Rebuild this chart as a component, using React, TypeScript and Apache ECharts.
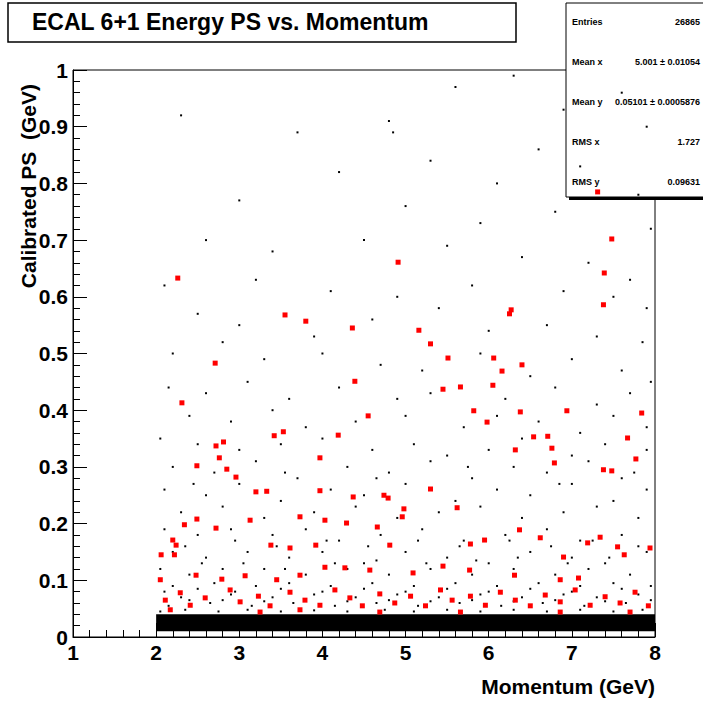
import { useEffect, useRef } from "react";
import * as echarts from "echarts";

const redPoints: number[][] = [
  [2.26, 0.633], [2.31, 0.413], [4.91, 0.661], [3.55, 0.568], [3.8, 0.557], [4.36, 0.545],
  [5.16, 0.541], [5.3, 0.517], [2.71, 0.483], [5.51, 0.492], [4.39, 0.451], [5.66, 0.441],
  [5.45, 0.437], [4.55, 0.39], [6.05, 0.444], [6.06, 0.492], [6.16, 0.469], [6.4, 0.48],
  [6.25, 0.57], [6.27, 0.577], [6.54, 0.353], [5.82, 0.399], [5.98, 0.379], [6.38, 0.397],
  [6.71, 0.354], [6.94, 0.399], [7.31, 0.785], [7.48, 0.702], [7.39, 0.642], [7.38, 0.586],
  [7.84, 0.395], [7.67, 0.351], [7.38, 0.295], [7.48, 0.293], [7.77, 0.314], [6.76, 0.333],
  [6.79, 0.307], [6.32, 0.33], [4.19, 0.356], [3.53, 0.362], [3.42, 0.355], [3.97, 0.316],
  [2.72, 0.337], [2.81, 0.344], [2.76, 0.316], [2.85, 0.296], [2.49, 0.302], [2.96, 0.282],
  [3.2, 0.256], [3.33, 0.257], [3.97, 0.258], [4.37, 0.247], [4.74, 0.25], [4.79, 0.245],
  [4.98, 0.226], [4.96, 0.212], [5.3, 0.261], [5.62, 0.228], [3.73, 0.212], [4.03, 0.206],
  [4.29, 0.201], [4.66, 0.194], [3.13, 0.206], [2.49, 0.208], [2.34, 0.198], [2.72, 0.192],
  [2.2, 0.171], [2.24, 0.162], [2.22, 0.145], [2.06, 0.145], [3.61, 0.157], [3.38, 0.162],
  [3.92, 0.162], [4.81, 0.162], [5.78, 0.164], [5.95, 0.171], [6.37, 0.189], [6.62, 0.175],
  [6.9, 0.141], [7.19, 0.166], [7.34, 0.176], [7.55, 0.159], [7.94, 0.157], [7.63, 0.145],
  [7.08, 0.104], [6.86, 0.101], [6.31, 0.109], [5.77, 0.118], [5.45, 0.125], [5.09, 0.113],
  [4.57, 0.118], [4.27, 0.122], [4.03, 0.123], [3.73, 0.109], [3.45, 0.101], [3.07, 0.108],
  [2.79, 0.102], [2.48, 0.109], [2.05, 0.101],
  [2.11, 0.065], [2.29, 0.078], [2.41, 0.056], [2.59, 0.069], [2.89, 0.083], [3.01, 0.062],
  [3.23, 0.072], [3.37, 0.055], [3.61, 0.079], [3.79, 0.065], [3.97, 0.056], [4.15, 0.083],
  [4.33, 0.069], [4.48, 0.055], [4.69, 0.076], [4.87, 0.06], [5.06, 0.072], [5.24, 0.055],
  [5.42, 0.083], [5.56, 0.065], [5.78, 0.072], [5.96, 0.056], [6.14, 0.079], [6.32, 0.065],
  [6.5, 0.055], [6.68, 0.074], [6.86, 0.062], [7.04, 0.083], [7.22, 0.056], [7.4, 0.071],
  [7.58, 0.06], [7.76, 0.079], [7.92, 0.055], [2.17, 0.048], [3.25, 0.044], [4.69, 0.044],
  [5.66, 0.044], [6.86, 0.044], [7.7, 0.044], [3.73, 0.048],
];

const blackPoints: number[][] = [
  [2.3, 0.92], [3.7, 0.89], [4.8, 0.91], [4.85, 0.89], [5.6, 0.97], [6.3, 0.99], [6.9, 0.93],
  [7.6, 0.96], [7.9, 0.9], [4.2, 0.82], [5.3, 0.84], [6.1, 0.8], [6.6, 0.86], [7.1, 0.83],
  [7.8, 0.78], [3.0, 0.77], [5.0, 0.76], [5.9, 0.73], [6.8, 0.75], [7.95, 0.72], [2.6, 0.7],
  [3.4, 0.68], [4.5, 0.7], [5.5, 0.69], [6.4, 0.67], [7.2, 0.66], [7.7, 0.63], [2.1, 0.62],
  [3.2, 0.63], [4.1, 0.61], [4.9, 0.6], [5.8, 0.62], [6.9, 0.61], [7.5, 0.6], [7.9, 0.58],
  [2.5, 0.57], [3.0, 0.55], [3.9, 0.53], [4.6, 0.56], [5.4, 0.58], [6.0, 0.54], [6.7, 0.55],
  [7.3, 0.53], [7.85, 0.52], [2.2, 0.5], [2.8, 0.52], [3.3, 0.49], [4.0, 0.5], [4.7, 0.48],
  [5.2, 0.47], [5.9, 0.5], [6.5, 0.46], [7.0, 0.49], [7.6, 0.47], [7.95, 0.45], [2.15, 0.44],
  [2.6, 0.43], [3.1, 0.45], [3.6, 0.42], [4.2, 0.44], [4.9, 0.42], [5.3, 0.43], [6.2, 0.42],
  [6.8, 0.44], [7.3, 0.41], [7.7, 0.43], [2.4, 0.39], [2.9, 0.38], [3.4, 0.4], [3.8, 0.37],
  [4.4, 0.38], [5.0, 0.39], [5.7, 0.37], [6.1, 0.39], [6.6, 0.38], [7.1, 0.36], [7.5, 0.39],
  [7.9, 0.37], [2.05, 0.35], [2.5, 0.34], [3.0, 0.33], [3.5, 0.34], [4.0, 0.35], [4.6, 0.33],
  [5.1, 0.34], [5.5, 0.32], [6.0, 0.33], [6.4, 0.35], [7.0, 0.32], [7.4, 0.34], [7.9, 0.33],
  [2.2, 0.3], [2.7, 0.29], [3.2, 0.31], [3.7, 0.28], [4.3, 0.3], [4.8, 0.29], [5.3, 0.31],
  [5.8, 0.28], [6.3, 0.3], [6.7, 0.29], [7.2, 0.31], [7.6, 0.28], [2.1, 0.26], [2.6, 0.25],
  [3.0, 0.27], [3.5, 0.24], [4.1, 0.26], [4.5, 0.25], [5.0, 0.27], [5.6, 0.24], [6.1, 0.26],
  [6.5, 0.25], [7.0, 0.27], [7.5, 0.24], [7.9, 0.26], [2.3, 0.22], [2.8, 0.23], [3.3, 0.21],
  [3.9, 0.22], [4.4, 0.23], [4.9, 0.21], [5.4, 0.22], [5.9, 0.23], [6.4, 0.21], [6.9, 0.22],
  [7.3, 0.23], [7.8, 0.21], [2.1, 0.19], [2.5, 0.18], [2.9, 0.19], [3.4, 0.18], [3.8, 0.19],
  [4.2, 0.17], [4.7, 0.18], [5.2, 0.19], [5.7, 0.17], [6.2, 0.18], [6.7, 0.19], [7.1, 0.17],
  [7.6, 0.18], [2.2, 0.15], [2.6, 0.14], [3.1, 0.15], [3.6, 0.14], [4.0, 0.15], [4.5, 0.13],
  [5.0, 0.15], [5.5, 0.14], [6.0, 0.13], [6.5, 0.15], [7.0, 0.14], [7.4, 0.13], [7.9, 0.15],
  [2.05, 0.12], [2.4, 0.11], [2.8, 0.12], [3.3, 0.12], [3.8, 0.11], [4.3, 0.12], [4.8, 0.11],
  [5.3, 0.12], [5.8, 0.11], [6.3, 0.12], [6.8, 0.11], [7.2, 0.12], [7.7, 0.11], [2.2, 0.09],
  [2.7, 0.095], [3.2, 0.09], [3.6, 0.095], [4.1, 0.09], [4.6, 0.095], [5.1, 0.09], [5.6, 0.095],
  [6.1, 0.09], [6.6, 0.095], [7.1, 0.09], [7.5, 0.095], [7.95, 0.09], [2.3, 0.07], [2.9, 0.075],
  [3.4, 0.07], [3.9, 0.075], [4.4, 0.07], [4.9, 0.075], [5.4, 0.07], [5.9, 0.075], [6.4, 0.07],
  [6.9, 0.075], [7.3, 0.07], [7.8, 0.075], [2.15, 0.055], [2.65, 0.06], [3.15, 0.055],
  [3.65, 0.06], [4.15, 0.055], [4.65, 0.06], [5.15, 0.055], [5.65, 0.06], [6.15, 0.055],
  [6.65, 0.06], [7.15, 0.055], [7.65, 0.06],
  [2.45, 0.27], [3.55, 0.29], [4.65, 0.28], [5.75, 0.3], [6.85, 0.27], [7.75, 0.29],
  [2.35, 0.16], [2.95, 0.17], [3.45, 0.16], [4.05, 0.17], [4.55, 0.16], [5.15, 0.17],
  [5.65, 0.16], [6.25, 0.17], [6.75, 0.16], [7.25, 0.17], [7.8, 0.16], [2.55, 0.13],
  [3.05, 0.13], [3.55, 0.12], [4.15, 0.13], [4.65, 0.135], [5.25, 0.13], [5.85, 0.135],
  [6.35, 0.14], [6.95, 0.13], [7.45, 0.14], [2.1, 0.08], [2.5, 0.085], [2.95, 0.08],
  [3.5, 0.085], [4.0, 0.08], [4.5, 0.085], [5.0, 0.08], [5.5, 0.085], [6.0, 0.08],
  [6.5, 0.085], [7.0, 0.08], [7.6, 0.085], [2.4, 0.065], [2.8, 0.065], [3.3, 0.063],
  [3.8, 0.065], [4.3, 0.063], [4.8, 0.065], [5.3, 0.063], [5.8, 0.065], [6.3, 0.063],
  [6.8, 0.065], [7.4, 0.063], [7.95, 0.065], [2.05, 0.045], [2.35, 0.048], [2.75, 0.045],
  [3.1, 0.048], [3.5, 0.045], [3.9, 0.047], [4.3, 0.045], [4.75, 0.048], [5.1, 0.045],
  [5.5, 0.048], [5.9, 0.045], [6.3, 0.048], [6.7, 0.045], [7.1, 0.048], [7.5, 0.045],
  [7.85, 0.048],
];

// dense, saturated band along the bottom
const denseBand = { xFrom: 2, xTo: 8, yFrom: 0.01, yTo: 0.04 };

const statLabels = ["Entries", "Mean x", "Mean y", "RMS x", "RMS y"];
const statValues = ["26865", "5.001 ± 0.01054", "0.05101 ± 0.0005876", "1.727", "0.09631"];

const FONT = "Liberation Sans, Arial, sans-serif";

export default function App() {
  const ref = useRef<HTMLDivElement | null>(null);

  useEffect(() => {
    if (!ref.current) return;
    const chart = echarts.init(ref.current, null, { renderer: "svg" });

    const axisLabel = { color: "#000", fontFamily: FONT, fontWeight: "bold" as const, fontSize: 21 };

    chart.setOption({
      animation: false,
      backgroundColor: "#fff",
      grid: { left: 73, right: 48, top: 70, bottom: 66, show: true, borderColor: "#000", borderWidth: 1 },
      xAxis: {
        type: "value",
        min: 1,
        max: 8,
        interval: 1,
        axisLine: { lineStyle: { color: "#000" } },
        axisTick: { inside: true, length: 14, lineStyle: { color: "#000" } },
        minorTick: { show: true, splitNumber: 5, length: 7, lineStyle: { color: "#000" } },
        splitLine: { show: false },
        axisLabel: { ...axisLabel, margin: 5 },
      },
      yAxis: {
        type: "value",
        min: 0,
        max: 1,
        interval: 0.1,
        axisLine: { lineStyle: { color: "#000" } },
        axisTick: { inside: true, length: 14, lineStyle: { color: "#000" } },
        minorTick: { show: true, splitNumber: 5, length: 7, lineStyle: { color: "#000" } },
        splitLine: { show: false },
        axisLabel: { ...axisLabel, margin: 5 },
      },
      series: [
        {
          type: "scatter",
          data: blackPoints,
          symbol: "rect",
          symbolSize: 2,
          itemStyle: { color: "#000", opacity: 1 },
          markArea: {
            silent: true,
            itemStyle: { color: "#000", opacity: 1 },
            data: [[{ coord: [denseBand.xFrom, denseBand.yFrom] }, { coord: [denseBand.xTo, denseBand.yTo] }]],
          },
        },
        {
          type: "scatter",
          data: redPoints,
          symbol: "rect",
          symbolSize: 5,
          itemStyle: { color: "#ff0000", opacity: 1 },
        },
      ],
      graphic: [
        { type: "rect", shape: { x: 8, y: 3, width: 508, height: 39 }, style: { fill: "#fff", stroke: "#000", lineWidth: 1.5 } },
        {
          type: "text",
          x: 32,
          y: 22,
          style: { text: "ECAL 6+1 Energy PS vs. Momentum", font: `bold 23px ${FONT}`, fill: "#000", verticalAlign: "middle" },
        },
        { type: "rect", shape: { x: 569, y: 6, width: 140, height: 194 }, style: { fill: "#000" } },
        { type: "rect", shape: { x: 566, y: 3, width: 140, height: 194 }, style: { fill: "#fff", stroke: "#000", lineWidth: 1 } },
        ...statLabels.map((t, i) => ({
          type: "text",
          x: 572,
          y: 22 + i * 40,
          style: { text: t, font: `bold 9px ${FONT}`, fill: "#000", verticalAlign: "middle" },
        })),
        ...statValues.map((t, i) => ({
          type: "text",
          x: 700,
          y: 22 + i * 40,
          style: { text: t, font: `bold 9px ${FONT}`, fill: "#000", align: "right", verticalAlign: "middle" },
        })),
        {
          type: "text",
          x: 28,
          y: 84,
          rotation: Math.PI / 2,
          style: { text: "Calibrated PS  (GeV)", font: `bold 21px ${FONT}`, fill: "#000", align: "right", verticalAlign: "middle" },
        },
        {
          type: "text",
          x: 655,
          y: 686,
          style: { text: "Momentum (GeV)", font: `bold 21px ${FONT}`, fill: "#000", align: "right", verticalAlign: "middle" },
        },
      ],
    });

    return () => chart.dispose();
  }, []);

  return <div ref={ref} style={{ position: "fixed", left: 0, top: 0, width: 703, height: 703 }} />;
}
